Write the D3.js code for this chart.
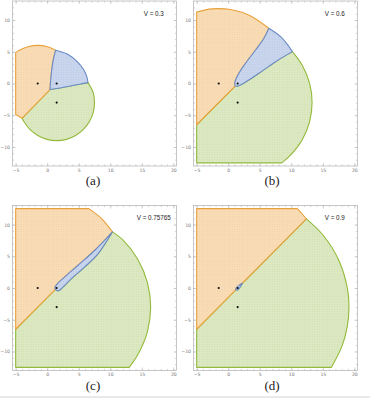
<!DOCTYPE html>
<html>
<head>
<meta charset="utf-8">
<script src="https://cdn.jsdelivr.net/npm/d3@7"></script>
<style>
  body { margin: 0; background: #fff; }
  svg { display: block; }
</style>
</head>
<body>
<div id="chart"></div>
<script>
// ---- data ----
var panelLetters = ["(a)", "(b)", "(c)", "(d)"];
var speedLabels = ["V = 0.3", "V = 0.6", "V = 0.75765", "V = 0.9"];
var sites = [[-1.5, 0], [1.5, 0], [1.5, -3]];
var xMajor = [-5, 0, 5, 10, 15, 20];
var yMajor = [-10, -5, 0, 5, 10];

// each region = list of boundary pieces (data coords), pieces join end to start
var orangeRegions = [
  [ // (a)
    [[1.35, 5.25], [0.05, 5.8], [-1.5, 6.0], [-3.05, 5.8], [-4.5, 5.2], [-5, 4.87]],
    [[-5, 4.87], [-5, -4.87]],
    [[-5, -4.87], [-3.97, -5.47]],
    [[-3.97, -5.47], [0.45, -0.95]],
    [[0.45, -0.95], [0.53, 0.3], [0.69, 1.87], [0.96, 3.71], [1.35, 5.25]]
  ],
  [ // (b)
    [[6.45, 8.7], [3.49, 10.69], [0.55, 11.62], [-2.53, 11.76], [-5, 11.27]],
    [[-5, 11.27], [-5, -6.5]],
    [[-5, -6.5], [1.1, -0.4]],
    [[1.1, -0.4], [1.05, 0.15], [1.69, 1.61], [2.75, 3.19], [4.34, 5.28], [5.66, 7.13], [6.45, 8.7]]
  ],
  [ // (c)
    [[-5, 12.5], [6.6, 12.5]],
    [[6.6, 12.5], [8.66, 10.9], [10.35, 8.85]],
    [[10.35, 8.85], [7.6, 5.99], [4.95, 3.63], [2.83, 1.79], [1.67, 0.74], [1.25, 0.1], [1.3, -0.22]],
    [[1.3, -0.22], [-5, -6.5]],
    [[-5, -6.5], [-5, 12.5]]
  ],
  [ // (d)
    [[-5, 12.5], [10.96, 12.5]],
    [[10.96, 12.5], [11.7, 11.7], [12.39, 10.89]],
    [[12.39, 10.89], [2.25, 0.75]],
    [[2.25, 0.75], [1.75, 0.45], [1.3, 0.05], [1.2, -0.3]],
    [[1.2, -0.3], [-5, -6.5]],
    [[-5, -6.5], [-5, 12.5]]
  ]
];

var blueRegions = [
  [ // (a)
    [[1.35, 5.25], [0.96, 3.71], [0.69, 1.87], [0.53, 0.3], [0.45, -0.95]],
    [[0.45, -0.95], [1.85, -0.75], [3.71, -0.39], [5.29, -0.07], [6.46, 0.14]],
    [[6.46, 0.14], [6.3, 1.0], [5.82, 2.13], [4.76, 3.45], [3.18, 4.65], [1.35, 5.25]]
  ],
  [ // (b)
    [[6.45, 8.7], [5.66, 7.13], [4.34, 5.28], [2.75, 3.19], [1.69, 1.61], [1.05, 0.15], [1.1, -0.4]],
    [[1.1, -0.4], [1.45, -0.42], [1.96, -0.23], [3.28, 0.56], [4.87, 1.61], [7.52, 3.44], [10.17, 5.02]],
    [[10.17, 5.02], [9.41, 6.12], [8.31, 7.38], [6.45, 8.7]]
  ],
  [ // (c)
    [[10.35, 8.85], [7.6, 5.99], [4.95, 3.63], [2.83, 1.79], [1.67, 0.74], [1.25, 0.1], [1.3, -0.22]],
    [[1.3, -0.22], [1.6, -0.42], [1.88, -0.41], [2.57, 0.22], [3.89, 1.53], [6.01, 3.37], [8.12, 5.47], [10.35, 8.85]]
  ],
  [ // (d)
    [[2.25, 0.75], [1.75, 0.45], [1.3, 0.05], [1.2, -0.3]],
    [[1.2, -0.3], [1.5, -0.3], [1.95, 0.25], [2.25, 0.75]]
  ]
];

var greenRegions = [
  [ // (a)
    [[6.46, 0.14], [5.29, -0.07], [3.71, -0.39], [1.85, -0.75], [0.45, -0.95]],
    [[0.45, -0.95], [-3.97, -5.47]],
    [[-3.97, -5.47], [-3.7, -6.0], [-2.74, -7.24], [-1.5, -8.2], [-0.05, -8.8], [1.5, -9.0], [3.05, -8.8],
     [4.5, -8.2], [5.74, -7.24], [6.7, -6.0], [7.3, -4.55], [7.5, -3.0], [7.3, -1.45], [6.46, 0.14]]
  ],
  [ // (b)
    [[10.17, 5.02], [7.52, 3.44], [4.87, 1.61], [3.28, 0.56], [1.96, -0.23], [1.45, -0.42], [1.1, -0.4]],
    [[1.1, -0.4], [-5, -6.5]],
    [[-5, -6.5], [-5, -12.5]],
    [[-5, -12.5], [8.5, -12.5]],
    [[8.5, -12.5], [9.84, -11.34], [11.72, -8.9], [12.9, -6.05], [13.3, -3], [12.9, 0.05], [11.72, 2.9], [10.17, 5.02]]
  ],
  [ // (c)
    [[10.35, 8.85], [8.12, 5.47], [6.01, 3.37], [3.89, 1.53], [2.57, 0.22], [1.88, -0.41], [1.6, -0.42], [1.3, -0.22]],
    [[1.3, -0.22], [-5, -6.5]],
    [[-5, -6.5], [-5, -12.5]],
    [[-5, -12.5], [13.0, -12.5]],
    [[13.0, -12.5], [14.4, -10.45], [15.89, -6.86], [16.4, -3], [15.89, 0.86], [14.4, 4.45], [12.04, 7.54], [10.35, 8.85]]
  ],
  [ // (d)
    [[12.39, 10.89], [2.25, 0.75]],
    [[2.25, 0.75], [1.95, 0.25], [1.5, -0.3], [1.2, -0.3]],
    [[1.2, -0.3], [-5, -6.5]],
    [[-5, -6.5], [-5, -12.5]],
    [[-5, -12.5], [16.37, -12.5]],
    [[16.37, -12.5], [18.09, -9.04], [18.88, -6.06], [19.15, -3], [18.88, 0.06], [17.5, 4.46], [15.02, 8.35], [12.39, 10.89]]
  ]
];

// ---- layout ----
var svgWidth = 370;
var svgHeight = 400;
var panelW = 164;
var panelH = 165;
var panelLeft = [12.5, 193.5];
var panelTop = [1, 205.5];

var svg = d3.select("#chart")
  .append("svg")
  .attr("width", svgWidth)
  .attr("height", svgHeight);

var x = d3.scaleLinear().domain([-5.5, 20.5]).range([0, panelW]);
var y = d3.scaleLinear().domain([-13, 13]).range([panelH, 0]);

var colors = {
  orange: { fill: "#f8dcb6", dot: "#e9b778", stroke: "#e9a23a" },
  blue:   { fill: "#c9d5ec", dot: "#94abd6", stroke: "#6a8bc7" },
  green:  { fill: "#dbe8c1", dot: "#afc97c", stroke: "#93ba3c" }
};

// light dotted texture like the mesh in the picture
var defs = svg.append("defs");
Object.keys(colors).forEach(function(k) {
  var p = defs.append("pattern")
    .attr("id", "tex-" + k)
    .attr("patternUnits", "userSpaceOnUse")
    .attr("width", 2.5)
    .attr("height", 2.5);
  p.append("rect").attr("width", 2.5).attr("height", 2.5).attr("fill", colors[k].fill);
  p.append("circle").attr("cx", 1.25).attr("cy", 1.25).attr("r", 0.45)
    .attr("fill", colors[k].dot).attr("opacity", 0.45);
});

var line = d3.line()
  .x(function(d) { return x(d[0]); })
  .y(function(d) { return y(d[1]); })
  .curve(d3.curveCatmullRom.alpha(0.5));

function regionPath(pieces) {
  return pieces.map(function(p, i) {
    var d = line(p);
    return i ? "L" + d.slice(1) : d;
  }).join("") + "Z";
}

var xMinor = d3.range(-5, 21);
var yMinor = d3.range(-12, 13);

panelLetters.forEach(function(letter, i) {
  var col = i % 2, row = Math.floor(i / 2);
  var g = svg.append("g")
    .attr("transform", "translate(" + panelLeft[col] + "," + panelTop[row] + ")");

  // regions: green, orange, blue
  [["green", greenRegions], ["orange", orangeRegions], ["blue", blueRegions]].forEach(function(r) {
    g.append("path")
      .attr("d", regionPath(r[1][i]))
      .attr("fill", "url(#tex-" + r[0] + ")")
      .attr("stroke", colors[r[0]].stroke)
      .attr("stroke-width", 1.1)
      .attr("stroke-linejoin", "round");
  });

  // sites
  g.selectAll("circle.site")
    .data(sites)
    .enter()
    .append("circle")
    .attr("class", "site")
    .attr("cx", function(d) { return x(d[0]); })
    .attr("cy", function(d) { return y(d[1]); })
    .attr("r", 1.1)
    .attr("fill", "#111");

  // frame axes
  var axes = [
    [d3.axisBottom(x).tickValues(xMajor), "translate(0," + panelH + ")", true],
    [d3.axisLeft(y).tickValues(yMajor), null, true],
    [d3.axisTop(x).tickValues(xMajor), null, false],
    [d3.axisRight(y).tickValues(yMajor), "translate(" + panelW + ",0)", false]
  ];
  var minorAxes = [
    [d3.axisBottom(x).tickValues(xMinor), "translate(0," + panelH + ")"],
    [d3.axisLeft(y).tickValues(yMinor), null],
    [d3.axisTop(x).tickValues(xMinor), null],
    [d3.axisRight(y).tickValues(yMinor), "translate(" + panelW + ",0)"]
  ];
  minorAxes.forEach(function(a) {
    var ag = g.append("g").attr("class", "minor")
      .call(a[0].tickSize(-1.6).tickFormat(""));
    if (a[1]) ag.attr("transform", a[1]);
  });
  axes.forEach(function(a) {
    var ax = a[0].tickSize(-3).tickPadding(2.5);
    if (!a[2]) ax.tickFormat("");
    var ag = g.append("g").call(ax);
    if (a[1]) ag.attr("transform", a[1]);
    ag.selectAll("text")
      .attr("font-size", 4.6)
      .attr("font-family", "DejaVu Sans, sans-serif")
      .attr("fill", "#777");
  });
  g.selectAll(".domain").remove();
  g.selectAll(".tick line").attr("stroke", "#aaa").attr("stroke-width", 0.5);

  g.append("rect")
    .attr("width", panelW)
    .attr("height", panelH)
    .attr("fill", "none")
    .attr("stroke", "#b0b0b0")
    .attr("stroke-width", 0.7);

  // V label
  g.append("text")
    .attr("x", x(16.9))
    .attr("y", y(11))
    .attr("dy", "0.35em")
    .attr("text-anchor", "middle")
    .attr("font-family", "Liberation Sans, Arial, sans-serif")
    .attr("font-size", 6.3)
    .attr("fill", "#222")
    .text(speedLabels[i]);

  // caption
  svg.append("text")
    .attr("x", col ? 272 : 93)
    .attr("y", row ? 390.2 : 185.2)
    .attr("text-anchor", "middle")
    .attr("font-family", "Liberation Serif, 'DejaVu Serif', serif")
    .attr("font-size", 13)
    .attr("fill", "#222")
    .text(letter);
});

// thin page rule at the bottom
svg.append("line")
  .attr("x1", 0).attr("x2", svgWidth)
  .attr("y1", 397).attr("y2", 397)
  .attr("stroke", "#d4d4d4")
  .attr("stroke-width", 1);
</script>
</body>
</html>
